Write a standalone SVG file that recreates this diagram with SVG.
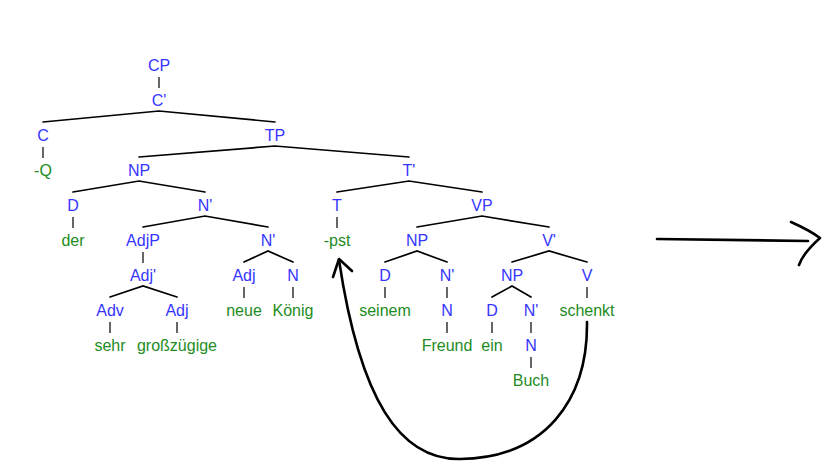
<svg xmlns="http://www.w3.org/2000/svg" width="839" height="473" viewBox="0 0 839 473">
<style>
text{font-family:"Liberation Sans",Arial,sans-serif;font-size:16px;text-anchor:middle}
.c{fill:#3535ff}
.w{fill:#1e8c1e}
.b{stroke:#000;stroke-width:1.7;fill:none;stroke-linecap:round}
.v{stroke:#000;stroke-width:1.2;fill:none}
.m{stroke:#000;stroke-width:2.6;fill:none;stroke-linecap:round;stroke-linejoin:round}
</style>
<rect width="839" height="473" fill="#fff"/>
<g id="connectors">
<path class="b" d="M43,122 L159,111 L275,122 M139,157 L275,146 L409,157 M73,192 L139,181 L205,192 M337,192 L409,181 L482,192 M143,227 L205,216 L268,227 M417,227 L482,216 L549,227 M244,262 L268,251 L293,262 M385,262 L417,251 L447,262 M512,262 L549,251 L587,262 M110,297 L143,286 L177,297 M492,297 L512,286 L531,297"/>
<path class="v" d="M159,77V88 M43,147V158 M73,217V228 M337,217V228 M143,252V263 M244,287V298 M293,287V298 M385,287V298 M447,287V298 M587,287V298 M110,322V333 M177,322V333 M447,322V333 M492,322V333 M531,322V333 M531,357V368"/>
<path class="m" d="M587,322 C588,400 545,458 460,459 C400,460 360,400 339,260"/>
<path class="m" d="M333,277 L339,259 L352,271"/>
<path class="m" d="M657,239 L808,241"/>
<path class="m" d="M791,222 C800,226 812,232 820,238 C810,247 802,256 799,265"/>
</g>
<g id="CP"><text class="c" x="159" y="71">CP</text></g>
<g id="Cbar"><text class="c" x="159" y="106">C'</text></g>
<g id="C"><text class="c" x="43" y="141">C</text></g>
<g id="TP"><text class="c" x="275" y="141">TP</text></g>
<g id="Q"><text class="w" x="43" y="176">-Q</text></g>
<g id="NP1"><text class="c" x="139" y="176">NP</text></g>
<g id="Tbar"><text class="c" x="409" y="176">T'</text></g>
<g id="D1"><text class="c" x="73" y="211">D</text></g>
<g id="Nbar1"><text class="c" x="205" y="211">N'</text></g>
<g id="T"><text class="c" x="337" y="211">T</text></g>
<g id="VP"><text class="c" x="482" y="211">VP</text></g>
<g id="der"><text class="w" x="73" y="246">der</text></g>
<g id="AdjP"><text class="c" x="143" y="246">AdjP</text></g>
<g id="Nbar2"><text class="c" x="268" y="246">N'</text></g>
<g id="pst"><text class="w" x="337" y="246">-pst</text></g>
<g id="NP2"><text class="c" x="417" y="246">NP</text></g>
<g id="Vbar"><text class="c" x="549" y="246">V'</text></g>
<g id="Adjbar"><text class="c" x="143" y="281">Adj'</text></g>
<g id="Adj1"><text class="c" x="244" y="281">Adj</text></g>
<g id="N1"><text class="c" x="293" y="281">N</text></g>
<g id="D2"><text class="c" x="385" y="281">D</text></g>
<g id="Nbar3"><text class="c" x="447" y="281">N'</text></g>
<g id="NP3"><text class="c" x="512" y="281">NP</text></g>
<g id="V"><text class="c" x="587" y="281">V</text></g>
<g id="Adv"><text class="c" x="110" y="316">Adv</text></g>
<g id="Adj2"><text class="c" x="177" y="316">Adj</text></g>
<g id="neue"><text class="w" x="244" y="316">neue</text></g>
<g id="Koenig"><text class="w" x="293" y="316">König</text></g>
<g id="seinem"><text class="w" x="385" y="316">seinem</text></g>
<g id="N2"><text class="c" x="447" y="316">N</text></g>
<g id="D3"><text class="c" x="492" y="316">D</text></g>
<g id="Nbar4"><text class="c" x="531" y="316">N'</text></g>
<g id="schenkt"><text class="w" x="587" y="316">schenkt</text></g>
<g id="sehr"><text class="w" x="110" y="351">sehr</text></g>
<g id="grosszuegige"><text class="w" x="177" y="351">großzügige</text></g>
<g id="Freund"><text class="w" x="447" y="351">Freund</text></g>
<g id="ein"><text class="w" x="492" y="351">ein</text></g>
<g id="N3"><text class="c" x="531" y="351">N</text></g>
<g id="Buch"><text class="w" x="531" y="386">Buch</text></g>
</svg>
